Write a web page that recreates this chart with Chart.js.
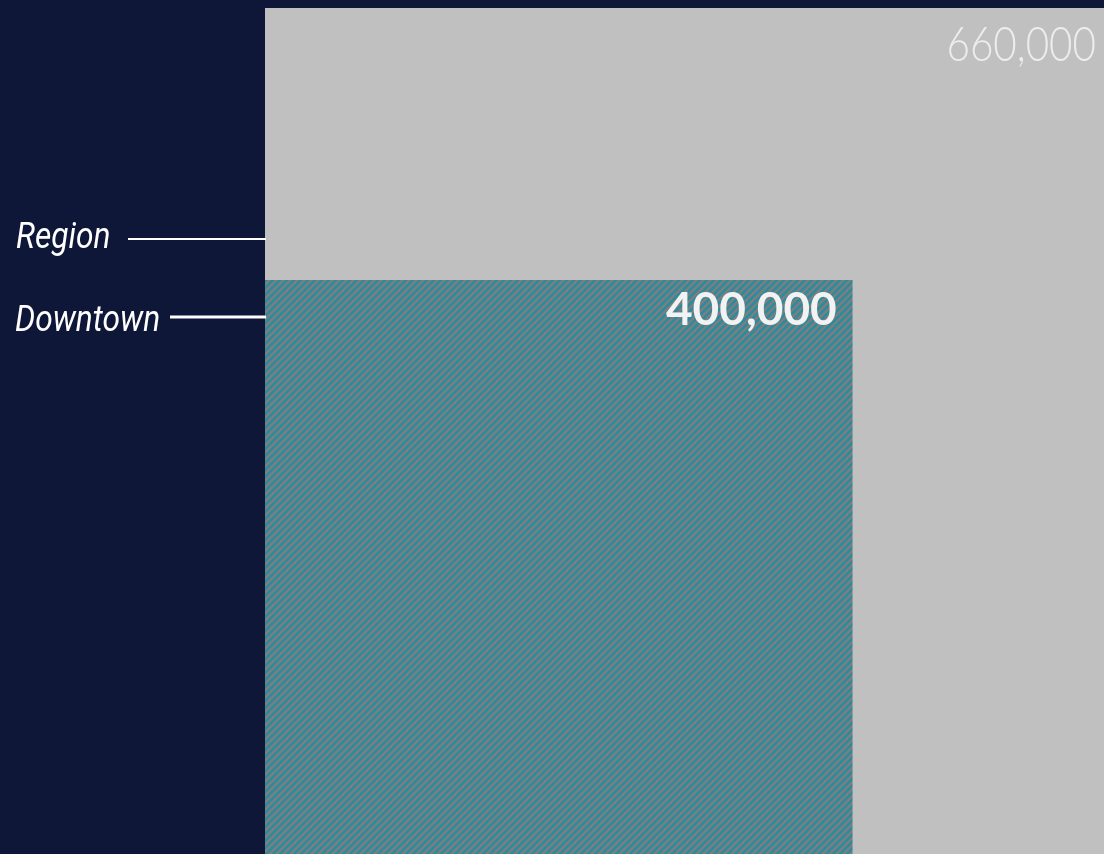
<!DOCTYPE html>
<html>
<head>
<meta charset="utf-8">
<script src="https://cdn.jsdelivr.net/npm/chart.js@4/dist/chart.umd.min.js"></script>
<style>
    html, body { margin: 0; padding: 0; background: #0f1739; }
    #wrap { width: 1104px; height: 854px; position: relative; }
</style>
</head>
<body>
<div id="wrap"><canvas id="areaChart"></canvas></div>
<script>
// Region vs downtown totals
const categories = ['Region', 'Downtown'];
const totals = [660000, 400000];

// Axis ranges (the region block runs off the right and bottom edges)
const xRange = [0, 571000];
const yRange = [-149000, 660000];

// Diagonal teal / grey hatch for the downtown block
function makeHatch() {
    const size = 7;
    const tile = document.createElement('canvas');
    tile.width = size;
    tile.height = size;
    const c = tile.getContext('2d');
    c.fillStyle = '#7e7e7e';
    c.fillRect(0, 0, size, size);
    c.strokeStyle = '#2a8c9f';
    c.lineWidth = 2.6;
    c.beginPath();
    for (let k = -1; k <= 1; k++) {
        c.moveTo(k * size - 1, size + 1);
        c.lineTo(k * size + size + 1, -1);
    }
    c.stroke();
    return c.createPattern(tile, 'repeat');
}

const blockStyles = [
    { fill: '#c0c0c0', order: 2, text: '300 47px Lato', squeeze: 0.86, color: '#ededed', inset: 8, drop: 53 },
    { fill: makeHatch(), order: 1, text: '700 46px Lato', squeeze: 1, color: '#f2f2f2', inset: 16, drop: 45 }
];

// Labels on the left with leader lines into the blocks
const leaders = [
    { x: 16, base: 248, lineFrom: 128, lineY: 239, width: 2 },
    { x: 15, base: 331, lineFrom: 170, lineY: 317, width: 3 }
];

// draws narrowed text, right or left anchored
function squeezedText(ctx, str, x, y, sx, align) {
    ctx.save();
    ctx.translate(x, y);
    ctx.scale(sx, 1);
    ctx.textAlign = align;
    ctx.fillText(str, 0, 0);
    ctx.restore();
}

const blockLabels = {
    id: 'blockLabels',
    afterDatasetsDraw(chart) {
        const { ctx, chartArea, scales } = chart;
        ctx.save();
        ctx.textBaseline = 'alphabetic';
        totals.forEach((v, i) => {
            const st = blockStyles[i];
            const right = Math.min(scales.x.getPixelForValue(v) - st.inset, chartArea.right - 8);
            const top = scales.y.getPixelForValue(v);
            ctx.font = st.text;
            ctx.fillStyle = st.color;
            squeezedText(ctx, v.toLocaleString('en-US'), right, top + st.drop, st.squeeze, 'right');

            const ld = leaders[i];
            ctx.font = 'italic 36px Roboto, sans-serif';
            ctx.fillStyle = '#ffffff';
            squeezedText(ctx, categories[i], ld.x, ld.base, 0.88, 'left');
            ctx.strokeStyle = '#ffffff';
            ctx.lineWidth = ld.width;
            ctx.beginPath();
            ctx.moveTo(ld.lineFrom, ld.lineY);
            ctx.lineTo(chartArea.left + 1, ld.lineY);
            ctx.stroke();
        });
        ctx.restore();
    }
};

new Chart(document.getElementById('areaChart'), {
    type: 'scatter',
    data: {
        datasets: totals.map((v, i) => ({
            label: categories[i],
            data: [{ x: 0, y: v }, { x: v, y: v }],
            showLine: true,
            fill: 'start',
            backgroundColor: blockStyles[i].fill,
            borderWidth: 0,
            pointRadius: 0,
            order: blockStyles[i].order
        }))
    },
    options: {
        responsive: true,
        maintainAspectRatio: false,
        animation: false,
        layout: { padding: { left: 265, top: 8, right: 0, bottom: 0 } },
        plugins: {
            legend: { display: false },
            tooltip: { enabled: false }
        },
        scales: {
            x: { type: 'linear', min: xRange[0], max: xRange[1], display: false },
            y: { type: 'linear', min: yRange[0], max: yRange[1], display: false }
        }
    },
    plugins: [blockLabels]
});
</script>
</body>
</html>
